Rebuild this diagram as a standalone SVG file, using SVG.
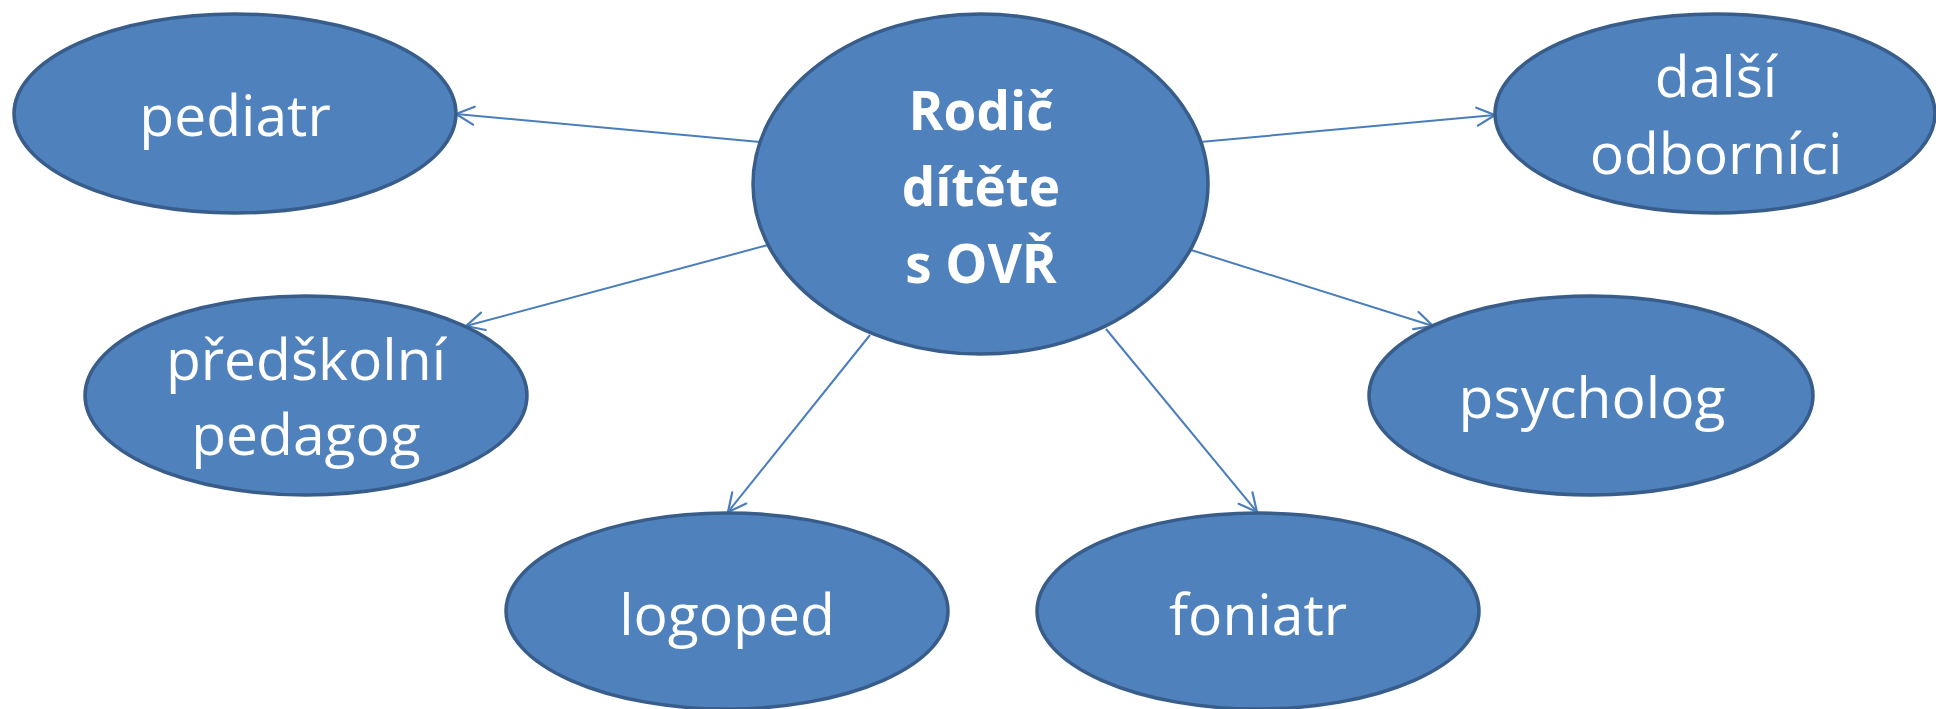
<svg xmlns="http://www.w3.org/2000/svg" width="1936" height="709" viewBox="0 0 1936 709">
<style>
.node{fill:#4F81BD;stroke:#385D8A;stroke-width:3.5}
.lbl{font-family:"Open Sans","Liberation Sans",sans-serif;font-size:57px;fill:#FFFFFF;text-anchor:middle}
.bold{font-weight:bold;font-size:53px}
.conn{stroke:#4A7EBB;stroke-width:2;fill:none;marker-end:url(#arr)}
</style>
<defs>
<marker id="arr" markerUnits="userSpaceOnUse" markerWidth="30" markerHeight="30" refX="20" refY="10" orient="auto" viewBox="0 0 30 20" overflow="visible">
<path d="M2,1 L20,10 L2,19" fill="none" stroke="#4A7EBB" stroke-width="2.2" stroke-linecap="round" stroke-linejoin="round"/>
</marker>
</defs>
<rect width="1936" height="709" fill="#FFFFFF"/>
<g id="connectors">
<line class="conn" x1="760" y1="142" x2="456" y2="114"/>
<line class="conn" x1="1200" y1="142" x2="1495" y2="115"/>
<line class="conn" x1="768" y1="245" x2="466" y2="326"/>
<line class="conn" x1="1191" y1="250" x2="1433" y2="326"/>
<line class="conn" x1="870" y1="335" x2="728" y2="512"/>
<line class="conn" x1="1106" y1="329" x2="1257" y2="512"/>
</g>
<g id="center">
<ellipse class="node" cx="980.5" cy="184" rx="227.5" ry="170"/>
<text class="lbl bold" x="981" y="130">Rodič</text>
<text class="lbl bold" x="981" y="206">dítěte</text>
<text class="lbl bold" x="981" y="283">s OVŘ</text>
</g>
<g id="pediatr">
<ellipse class="node" cx="235" cy="113.5" rx="221" ry="99.5"/>
<text class="lbl" x="235" y="136">pediatr</text>
</g>
<g id="dalsi">
<ellipse class="node" cx="1715" cy="113.5" rx="220" ry="99.5"/>
<text class="lbl" x="1716" y="97">další</text>
<text class="lbl" x="1716" y="174">odborníci</text>
</g>
<g id="predskolni">
<ellipse class="node" cx="306" cy="395.5" rx="221" ry="99.5"/>
<text class="lbl" x="306" y="380">předškolní</text>
<text class="lbl" x="306" y="455">pedagog</text>
</g>
<g id="psycholog">
<ellipse class="node" cx="1591" cy="395.5" rx="222" ry="99.5"/>
<text class="lbl" x="1592" y="418">psycholog</text>
</g>
<g id="logoped">
<ellipse class="node" cx="727" cy="611" rx="221" ry="98"/>
<text class="lbl" x="727" y="635">logoped</text>
</g>
<g id="foniatr">
<ellipse class="node" cx="1258" cy="611" rx="221" ry="98"/>
<text class="lbl" x="1258" y="635">foniatr</text>
</g>
</svg>
